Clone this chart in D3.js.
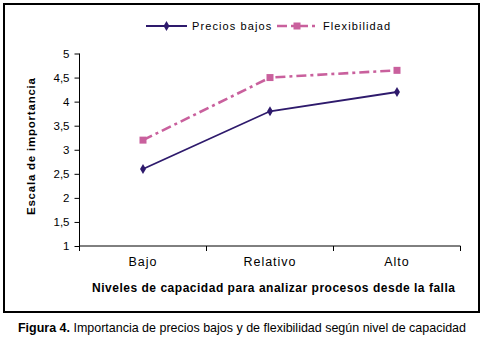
<!DOCTYPE html>
<html>
<head>
<meta charset="utf-8">
<script src="https://cdn.jsdelivr.net/npm/d3@7"></script>
<style>
  body { margin: 0; background: #fff; }
  text { font-family: "Liberation Sans", Arial, sans-serif; fill: #000; }
</style>
</head>
<body>
<div class="canvas"></div>
<script>
// data
const categories = ['Bajo', 'Relativo', 'Alto'];
const preciosBajos = [2.6, 3.8, 4.2];
const flexibilidad = [3.2, 4.5, 4.65];
const yTicks = [1, 1.5, 2, 2.5, 3, 3.5, 4, 4.5, 5];

const svg = d3.select('.canvas')
  .append('svg')
    .attr('width', 485)
    .attr('height', 338);

// outer frame
svg.append('rect')
  .attr('x', 4).attr('y', 4)
  .attr('width', 475).attr('height', 308)
  .attr('fill', 'none')
  .attr('stroke', '#000')
  .attr('stroke-width', 2);

const margin = {top: 53.5, left: 79.5};
const graphWidth = 381;
const graphHeight = 192.5;

const graph = svg.append('g')
  .attr('transform', `translate(${margin.left}, ${margin.top})`);

// scales
const x = d3.scaleBand()
  .domain(categories)
  .range([0, graphWidth]);

const y = d3.scaleLinear()
  .domain([1, 5])
  .range([graphHeight, 0]);

// y axis
const yAxis = d3.axisLeft(y)
  .tickValues(yTicks)
  .tickSize(5)
  .tickPadding(5)
  .tickFormat(d => String(d).replace('.', ','));

const yAxisGroup = graph.append('g').call(yAxis);
yAxisGroup.select('.domain').attr('d', `M0,0V${graphHeight}`).attr('stroke', '#000');
yAxisGroup.selectAll('text')
  .style('font-size', '11.5px');

// x axis: ticks on band boundaries, labels in the middle
const xAxisGroup = graph.append('g')
  .attr('transform', `translate(0, ${graphHeight})`);

xAxisGroup.append('line')
  .attr('x1', 0).attr('x2', graphWidth)
  .attr('stroke', '#000');

xAxisGroup.selectAll('line.tick')
  .data(categories.map(c => x(c)).concat([graphWidth]))
  .enter()
  .append('line')
    .attr('class', 'tick')
    .attr('x1', d => d).attr('x2', d => d)
    .attr('y1', 0).attr('y2', 5)
    .attr('stroke', '#000');

xAxisGroup.selectAll('text.cat')
  .data(categories)
  .enter()
  .append('text')
    .attr('class', 'cat')
    .attr('x', d => x(d) + x.bandwidth() / 2)
    .attr('y', 20)
    .attr('text-anchor', 'middle')
    .style('font-size', '12.5px')
    .style('letter-spacing', '1px')
    .text(d => d);

// axis titles
svg.append('text')
  .attr('x', 92).attr('y', 292)
  .attr('textLength', 363)
  .attr('lengthAdjust', 'spacing')
  .style('font-size', '12px')
  .style('font-weight', 'bold')
  .text('Niveles de capacidad para analizar procesos desde la falla');

svg.append('text')
  .attr('transform', 'translate(35, 215) rotate(-90)')
  .attr('textLength', 137)
  .attr('lengthAdjust', 'spacing')
  .style('font-size', '11.5px')
  .style('font-weight', 'bold')
  .text('Escala de importancia');

// lines
const cx = (d, i) => x(categories[i]) + x.bandwidth() / 2;
const line = d3.line()
  .x(cx)
  .y(d => y(d));

graph.append('path')
  .datum(flexibilidad)
  .attr('d', line)
  .attr('fill', 'none')
  .attr('stroke', '#c9609d')
  .attr('stroke-width', 2.6)
  .attr('stroke-dasharray', '10,4,3,4');

graph.append('path')
  .datum(preciosBajos)
  .attr('d', line)
  .attr('fill', 'none')
  .attr('stroke', '#2e1a6c')
  .attr('stroke-width', 1.8);

// markers
graph.selectAll('rect.flex')
  .data(flexibilidad)
  .enter()
  .append('rect')
    .attr('class', 'flex')
    .attr('x', (d, i) => cx(d, i) - 3.5)
    .attr('y', d => y(d) - 3.5)
    .attr('width', 7).attr('height', 7)
    .attr('fill', '#c9609d');

const diamond = d3.symbol().type(d3.symbolDiamond).size(30);
graph.selectAll('path.precio')
  .data(preciosBajos)
  .enter()
  .append('path')
    .attr('class', 'precio')
    .attr('d', diamond)
    .attr('transform', (d, i) => `translate(${cx(d, i)}, ${y(d)})`)
    .attr('fill', '#2e1a6c');

// legend
const legend = svg.append('g').attr('transform', 'translate(0, 26)');

legend.append('line')
  .attr('x1', 146).attr('x2', 187)
  .attr('stroke', '#2e1a6c').attr('stroke-width', 1.8);
legend.append('path')
  .attr('d', diamond)
  .attr('transform', 'translate(166.5, 0)')
  .attr('fill', '#2e1a6c');
legend.append('text')
  .attr('x', 192).attr('y', 4)
  .style('font-size', '11px')
  .style('letter-spacing', '1.1px')
  .text('Precios bajos');

legend.append('line')
  .attr('x1', 277).attr('x2', 317)
  .attr('stroke', '#c9609d').attr('stroke-width', 2.6)
  .attr('stroke-dasharray', '10,4,3,4');
legend.append('rect')
  .attr('x', 293.5).attr('y', -3.5)
  .attr('width', 7).attr('height', 7)
  .attr('fill', '#c9609d');
legend.append('text')
  .attr('x', 323).attr('y', 4)
  .style('font-size', '11px')
  .style('letter-spacing', '1.1px')
  .text('Flexibilidad');

// caption
const caption = svg.append('text')
  .attr('x', 18).attr('y', 332)
  .attr('textLength', 448)
  .attr('lengthAdjust', 'spacingAndGlyphs')
  .style('font-size', '13px');
caption.append('tspan').style('font-weight', 'bold').text('Figura 4.');
caption.append('tspan').text(' Importancia de precios bajos y de flexibilidad según nivel de capacidad');
</script>
</body>
</html>
